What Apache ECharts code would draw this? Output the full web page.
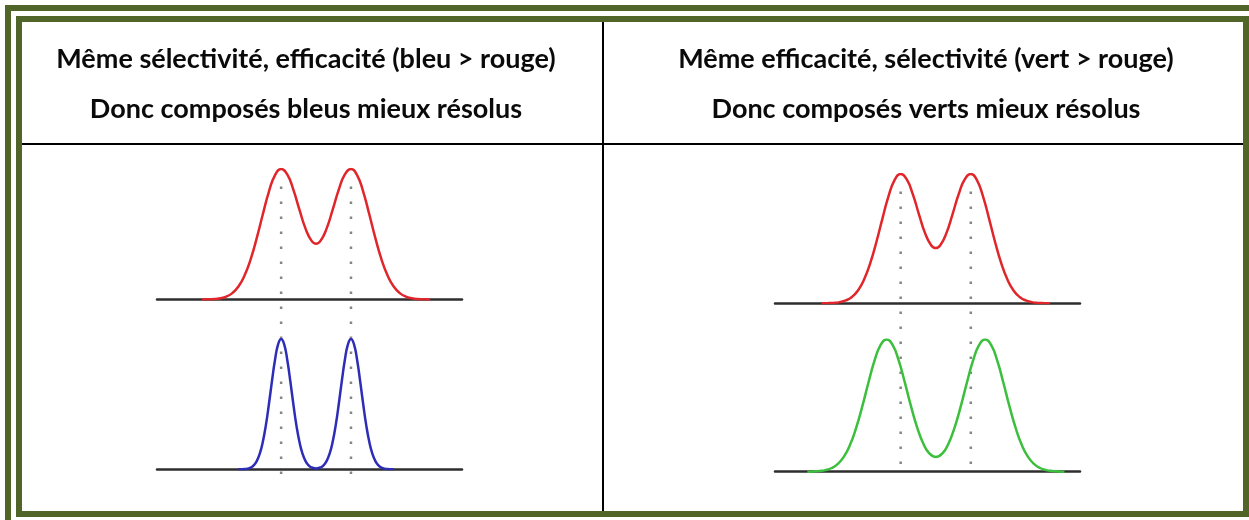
<!DOCTYPE html>
<html lang="fr">
<head>
<meta charset="utf-8">
<title>Résolution : sélectivité et efficacité</title>
<script src="https://cdn.jsdelivr.net/npm/echarts@6/dist/echarts.min.js"></script>
<style>
  html, body { margin: 0; padding: 0; background: #ffffff; }
  #chart { width: 1249px; height: 520px; }
</style>
</head>
<body>
<div id="chart"></div>
<script>
// Column headers
const headerLeft = ['Même sélectivité, efficacité (bleu > rouge)', 'Donc composés bleus mieux résolus'];
const headerRight = ['Même efficacité, sélectivité (vert > rouge)', 'Donc composés verts mieux résolus'];

// Reference chromatogram (red), left column: retention time / relative intensity
const redLeftTimes = [1.47, 1.67, 1.87, 2.07, 2.27, 2.47, 2.67, 2.87, 3.07, 3.27, 3.47, 3.67, 3.87,
  4.07, 4.27, 4.47, 4.67, 4.87, 5.07, 5.215, 5.36, 5.56, 5.76, 5.96, 6.16,
  6.36, 6.56, 6.76, 6.96, 7.16, 7.36, 7.56, 7.76, 7.96, 8.16, 8.36, 8.56, 8.76, 8.96];
// Same red chromatogram, right column
const redRightTimes = [1.52, 1.72, 1.92, 2.12, 2.32, 2.52, 2.72, 2.92, 3.12, 3.32, 3.52, 3.72, 3.92,
  4.12, 4.32, 4.52, 4.72, 4.92, 5.12, 5.27, 5.42, 5.62, 5.82, 6.02, 6.22,
  6.42, 6.62, 6.82, 7.02, 7.22, 7.42, 7.62, 7.82, 8.02, 8.22, 8.42, 8.62, 8.82, 9.02];
const redIntensity = [0, 0.1, 0.3, 0.9, 2.2, 4.9, 9.9, 18.4, 30.8, 47.0, 65.3, 82.7, 95.3,
  100, 95.8, 84.2, 68.8, 54.3, 44.9, 42.7, 44.9, 54.3, 68.8, 84.2, 95.8,
  100, 95.3, 82.7, 65.3, 47.0, 30.8, 18.4, 9.9, 4.9, 2.2, 0.9, 0.3, 0.1, 0];

// Higher efficiency (blue): same retention times, narrower peaks
const blueTimes = [2.67, 2.77, 2.87, 2.97, 3.07, 3.17, 3.27, 3.37, 3.47, 3.57, 3.67, 3.77, 3.87, 3.97,
  4.07, 4.17, 4.27, 4.37, 4.47, 4.57, 4.67, 4.77, 4.87, 4.97, 5.07, 5.17,
  5.215, 5.26, 5.36, 5.46, 5.56, 5.66, 5.76, 5.86, 5.96, 6.06, 6.16, 6.26,
  6.36, 6.46, 6.56, 6.66, 6.76, 6.86, 6.96, 7.06, 7.16, 7.26, 7.36, 7.46, 7.56, 7.66, 7.76];
const blueIntensity = [0, 0.1, 0.2, 0.5, 1.3, 3.0, 6.3, 12.0, 21.1, 33.9, 50.1, 67.8, 84.1, 95.8,
  100, 95.8, 84.1, 67.8, 50.1, 33.9, 21.1, 12.0, 6.3, 3.0, 1.4, 0.8,
  0.7, 0.8, 1.4, 3.0, 6.3, 12.0, 21.1, 33.9, 50.1, 67.8, 84.1, 95.8,
  100, 95.8, 84.1, 67.8, 50.1, 33.9, 21.1, 12.0, 6.3, 3.0, 1.3, 0.5, 0.2, 0.1, 0];

// Higher selectivity (green): same peak width, peaks further apart
const greenTimes = [1.06, 1.26, 1.46, 1.66, 1.86, 2.06, 2.26, 2.46, 2.66, 2.86, 3.06, 3.26, 3.46,
  3.66, 3.86, 4.06, 4.26, 4.46, 4.66, 4.86, 5.06, 5.275, 5.49, 5.69, 5.89, 6.09, 6.29, 6.49, 6.69,
  6.89, 7.09, 7.29, 7.49, 7.69, 7.89, 8.09, 8.29, 8.49, 8.69, 8.89, 9.09, 9.29, 9.49];
const greenIntensity = [0, 0.2, 0.5, 1.2, 2.8, 5.9, 11.4, 20.3, 33.1, 49.2, 67.1, 83.8, 95.7,
  100, 95.7, 83.8, 67.2, 49.4, 33.5, 21.4, 13.9, 11.1, 13.9, 21.4, 33.5, 49.4, 67.2, 83.8, 95.7,
  100, 95.7, 83.8, 67.1, 49.2, 33.1, 20.3, 11.4, 5.9, 2.8, 1.2, 0.5, 0.2, 0];

// Retention times of the red peaks (dotted guides)
const leftPeakTimes = [4.07, 6.36];
const rightPeakTimes = [4.12, 6.42];

const timeRange = [0, 10];

const zip = (xs, ys) => xs.map((x, i) => [x, ys[i]]);

const FONT = 'Lato, "Open Sans", sans-serif';
const BORDER = '#526529';
const AXIS = '#2e2e2e';
const GUIDE = '#858585';

// Plot areas: 0 TL, 1 BL, 2 TR, 3 BR, 4/5 guide overlays (left/right column)
const grids = [
  { left: 157, width: 305, top: 169, height: 130.5 },
  { left: 157, width: 305, top: 339, height: 130.3 },
  { left: 775, width: 305, top: 174, height: 129.3 },
  { left: 775, width: 305, top: 339.5, height: 132.2 },
  { left: 157, width: 305, top: 177, height: 297 },
  { left: 775, width: 305, top: 181, height: 283 }
];

const xAxes = grids.map((g, i) => ({
  gridIndex: i,
  type: 'value',
  min: timeRange[0],
  max: timeRange[1],
  axisLine: { show: i < 4, onZero: false, lineStyle: { color: AXIS, width: 2.5 } },
  axisTick: { show: false },
  axisLabel: { show: false },
  splitLine: { show: false }
}));

const yAxes = grids.map((g, i) => ({
  gridIndex: i,
  type: 'value',
  min: 0,
  max: i < 4 ? 100 : 1,
  show: false
}));

function curve(idx, data, color) {
  return {
    type: 'line',
    xAxisIndex: idx,
    yAxisIndex: idx,
    data: data,
    smooth: true,
    symbol: 'none',
    silent: true,
    z: 3,
    lineStyle: { color: color, width: 2.5 }
  };
}

function guide(idx, t) {
  return {
    type: 'line',
    xAxisIndex: idx,
    yAxisIndex: idx,
    data: [[t, 0], [t, 1]],
    symbol: 'none',
    silent: true,
    z: 2,
    lineStyle: { color: GUIDE, width: 2.5, type: [2.5, 12.5] }
  };
}

const series = [
  curve(0, zip(redLeftTimes, redIntensity), '#e0262b'),
  curve(1, zip(blueTimes, blueIntensity), '#2d2db8'),
  curve(2, zip(redRightTimes, redIntensity), '#e0262b'),
  curve(3, zip(greenTimes, greenIntensity), '#3cbf3c'),
  ...leftPeakTimes.map(t => guide(4, t)),
  ...rightPeakTimes.map(t => guide(5, t))
];

function headerText(x, y, text) {
  return {
    type: 'text',
    x: x, y: y,
    silent: true,
    style: {
      text: text,
      font: 'bold 27px ' + FONT,
      fill: '#0a0a0a',
      textAlign: 'center',
      textVerticalAlign: 'middle'
    }
  };
}

const graphic = [
  // double green frame
  { type: 'rect', silent: true, shape: { x: 8, y: 8, width: 1270, height: 540 },
    style: { fill: 'none', stroke: BORDER, lineWidth: 6 } },
  { type: 'rect', silent: true, shape: { x: 19, y: 19, width: 1227, height: 495 },
    style: { fill: 'none', stroke: BORDER, lineWidth: 6 } },
  // table rules
  { type: 'line', silent: true, shape: { x1: 603, y1: 22, x2: 603, y2: 511 },
    style: { stroke: '#000', lineWidth: 2 } },
  { type: 'line', silent: true, shape: { x1: 22, y1: 144, x2: 1243, y2: 144 },
    style: { stroke: '#000', lineWidth: 2 } },
  headerText(306, 59, headerLeft[0]),
  headerText(306, 109, headerLeft[1]),
  headerText(926, 59, headerRight[0]),
  headerText(926, 109, headerRight[1])
];

const chart = echarts.init(document.getElementById('chart'), null, { renderer: 'canvas' });
chart.setOption({
  animation: false,
  backgroundColor: '#ffffff',
  grid: grids,
  xAxis: xAxes,
  yAxis: yAxes,
  series: series,
  graphic: graphic
});
</script>
</body>
</html>
